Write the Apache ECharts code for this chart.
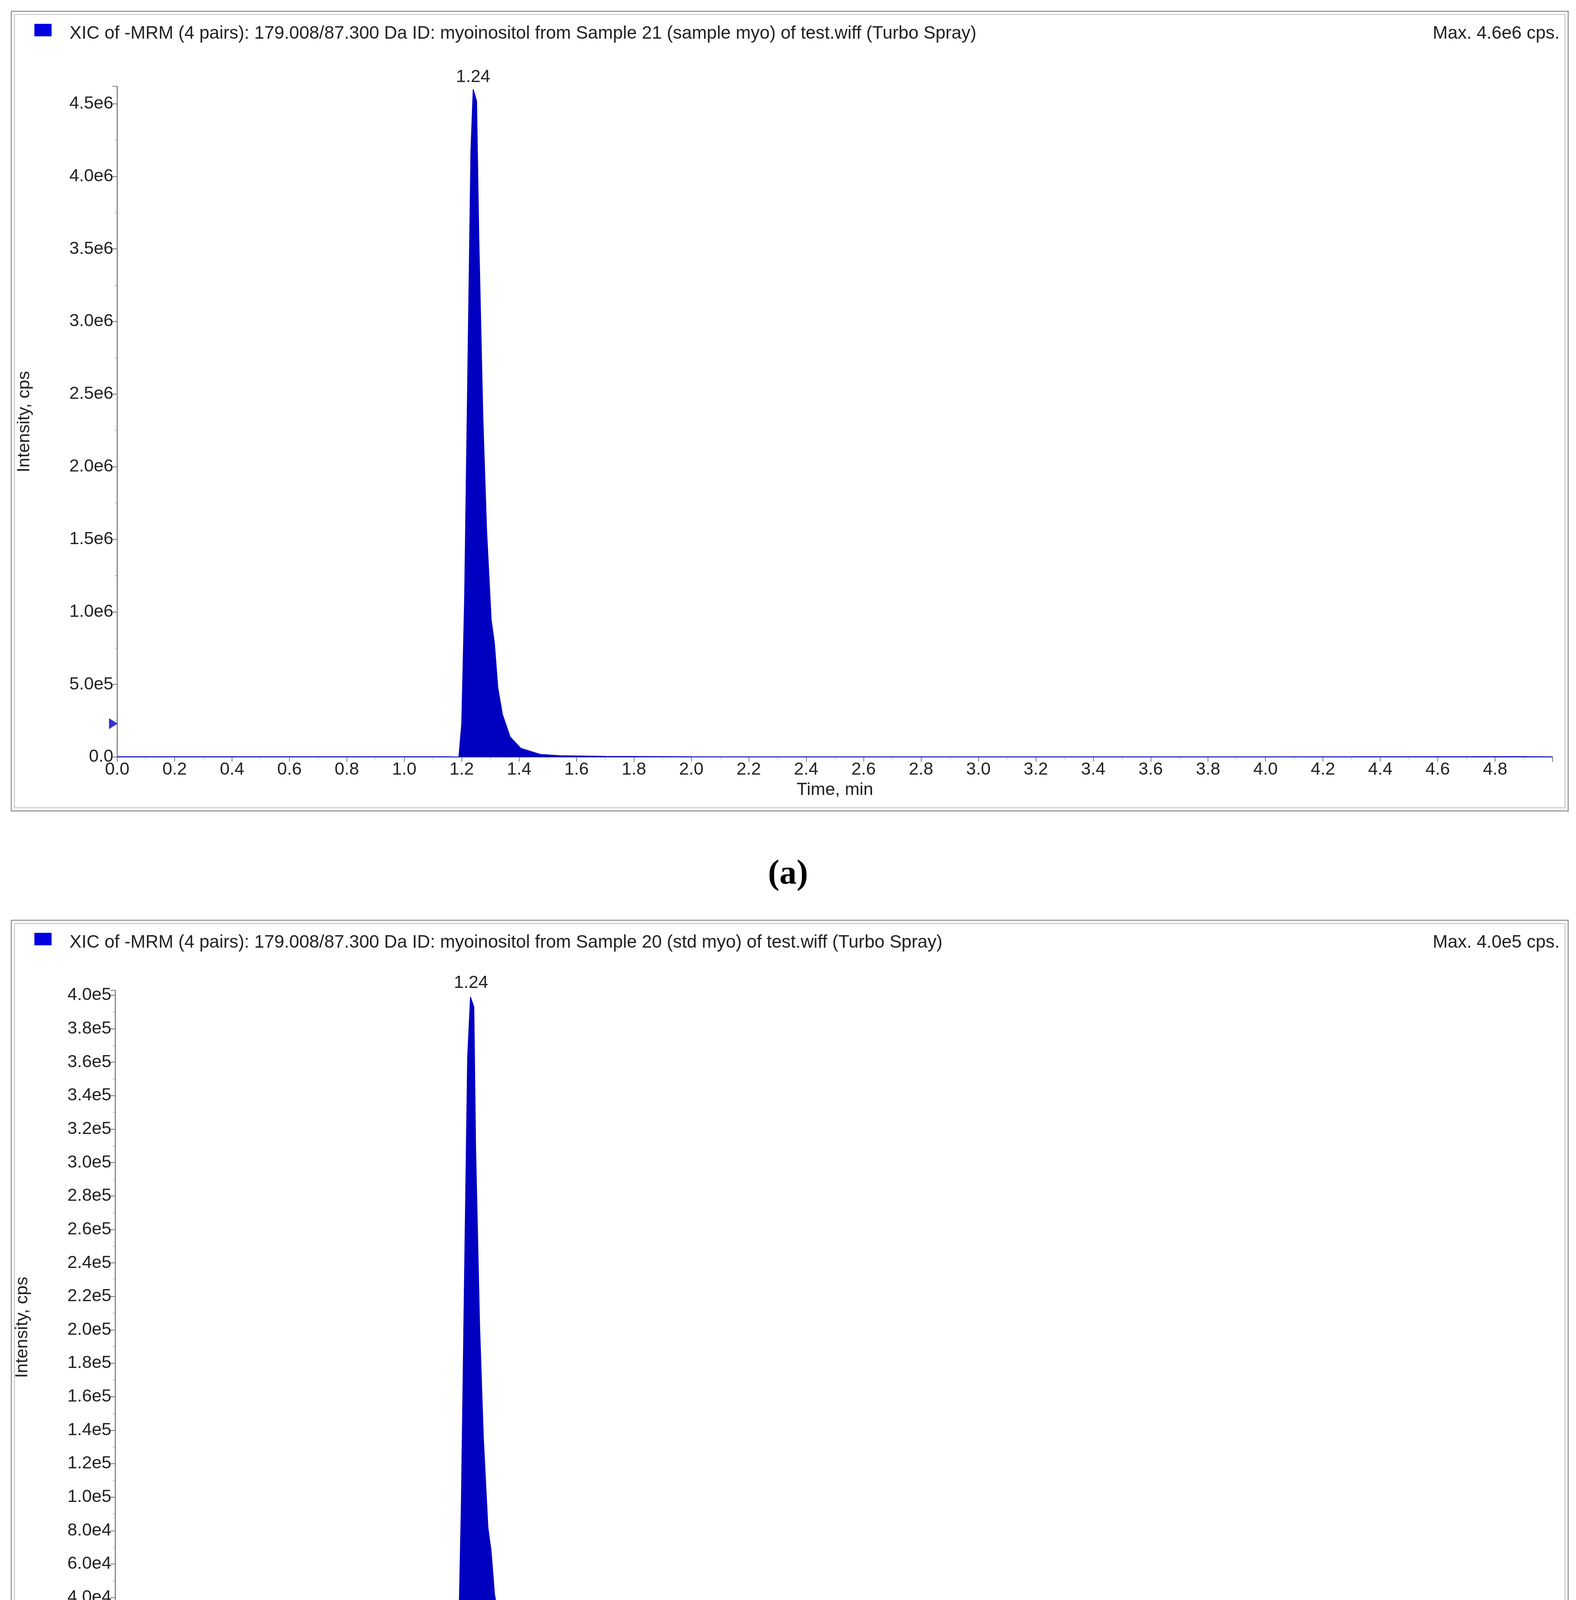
<!DOCTYPE html>
<html><head><meta charset="utf-8">
<script src="https://cdn.jsdelivr.net/npm/echarts@6/dist/echarts.min.js"></script>
<style>html,body{margin:0;padding:0;background:#fff}#c{width:4034px;height:4631px}</style>
</head><body><div id="c"></div>
<script>
const timeA = [0.0,0.5,1.0,1.15,1.190,1.200,1.210,1.221,1.232,1.240,1.252,1.260,1.274,1.287,1.303,1.314,1.326,1.342,1.369,1.406,1.474,1.542,1.7,2.0,2.5,3.0,4.0,4.9,5.0];
const intA  = [2000,2000,2000,2000,0,230000,1095000,2640000,4180000,4600000,4520000,3565000,2330000,1560000,943000,787000,478000,294000,138000,60000,18000,9200,5000,2000,1500,1500,1500,3000,1500];
const timeB = [0.0,0.02,0.05,0.5,1.0,1.15,1.188,1.197,1.206,1.217,1.228,1.238,1.250,1.256,1.270,1.283,1.299,1.310,1.322,1.338,1.365,1.402,1.47,1.54,1.7,2.0,2.8,3.5,4.2,5.0];
const intB  = [3000,5000,1500,800,800,800,0,20000,95000,230000,363000,399000,393000,310000,203000,136000,82000,68000,42000,26000,12000,5200,1600,900,600,500,600,500,500,400];
const markerA = 2.3e5, markerB = 2.0e4;
const peakA = [1.24, 4.6e6], peakB = [1.24, 4.0e5];
const titleA = 'XIC of -MRM (4 pairs): 179.008/87.300 Da ID: myoinositol from Sample 21 (sample myo) of test.wiff (Turbo Spray)';
const titleB = 'XIC of -MRM (4 pairs): 179.008/87.300 Da ID: myoinositol from Sample 20 (std myo) of test.wiff (Turbo Spray)';
const maxA = 'Max. 4.6e6 cps.', maxB = 'Max. 4.0e5 cps.';

const F = 'Liberation Sans, Arial, sans-serif';
const fmtY = v => v === 0 ? '0.0' : v.toExponential(1).replace('e+', 'e');
const fmtX = v => v.toFixed(1);
function xAxis(i){return {type:'value',gridIndex:i,min:0,max:5,interval:0.2,
  name:'Time, min',nameLocation:'middle',nameGap:62,nameTextStyle:{fontFamily:F,fontSize:45,color:'#222'},
  axisLine:{lineStyle:{color:'#555',width:2}},axisTick:{length:12,lineStyle:{color:'#777',width:2}},
  minorTick:{show:true,splitNumber:2,length:7,lineStyle:{color:'#999'}},
  axisLabel:{formatter:fmtX,fontFamily:F,fontSize:45,color:'#222',margin:10,showMaxLabel:false},splitLine:{show:false}};}
function yAxis(i,max,intv){return {type:'value',gridIndex:i,min:0,max:max,interval:intv,
  name:'Intensity, cps',nameLocation:'middle',nameGap:215,nameTextStyle:{fontFamily:F,fontSize:45,color:'#222'},
  axisLine:{show:true,lineStyle:{color:'#555',width:2}},axisTick:{show:true,length:12,lineStyle:{color:'#777',width:2}},
  minorTick:{show:true,splitNumber:2,length:7,lineStyle:{color:'#999'}},
  axisLabel:{formatter:fmtY,fontFamily:F,fontSize:45,color:'#222',margin:10,showMaxLabel:false},splitLine:{show:false}};}
function area(i,t,v,peak){return {type:'line',xAxisIndex:i,yAxisIndex:i,data:t.map((x,k)=>[x,v[k]]),
  symbol:'none',lineStyle:{color:'#0000c8',width:2},areaStyle:{color:'#0000c0',opacity:1},z:3,
  markPoint:{symbol:'circle',symbolSize:0,data:[{coord:peak,value:'1.24'}],
    label:{show:true,position:'top',distance:8,formatter:'1.24',fontFamily:F,fontSize:45,color:'#222'}}};}
function marker(i,y){return {type:'scatter',xAxisIndex:i,yAxisIndex:i,data:[[0,y]],symbol:'triangle',symbolRotate:-90,
  symbolSize:[28,22],symbolOffset:[-10,0],itemStyle:{color:'#0000c8'},z:5,clip:false};}
function box(top,h){return [
  {type:'rect',shape:{x:29,y:top,width:3985,height:h},style:{fill:'none',stroke:'#999',lineWidth:3}},
  {type:'rect',shape:{x:37,y:top+8,width:3969,height:h-16},style:{fill:'none',stroke:'#bbb',lineWidth:2}}];}
function head(top,title,mx){return [
  {type:'rect',shape:{x:88,y:top+32,width:44,height:32},style:{fill:'#0000e0'}},
  {type:'text',left:178,top:top+34,style:{text:title,font:'46px '+F,fill:'#222'}},
  {type:'text',right:42,top:top+34,style:{text:mx,font:'46px '+F,fill:'#222',textAlign:'right'}}];}
const chart = echarts.init(document.getElementById('c'));
chart.setOption({animation:false,backgroundColor:'#fff',
  grid:[{left:300,right:60,top:221,height:1717},{left:295,right:67,top:2535,height:1726}],
  xAxis:[xAxis(0),xAxis(1)],
  yAxis:[yAxis(0,4.62e6,5e5),yAxis(1,4.03e5,2e4)],
  series:[area(0,timeA,intA,peakA),area(1,timeB,intB,peakB),marker(0,markerA),marker(1,markerB)],
  graphic:[...box(29,2047),...box(2356,2047),...head(29,titleA,maxA),...head(2356,titleB,maxB),
    {type:'text',left:'center',top:2195,style:{text:'(a)',font:'bold 88px "Liberation Serif", serif',fill:'#000',textAlign:'center'}},
    {type:'text',left:'center',top:4505,style:{text:'(b)',font:'bold 88px "Liberation Serif", serif',fill:'#000',textAlign:'center'}}]
});
</script></body></html>
